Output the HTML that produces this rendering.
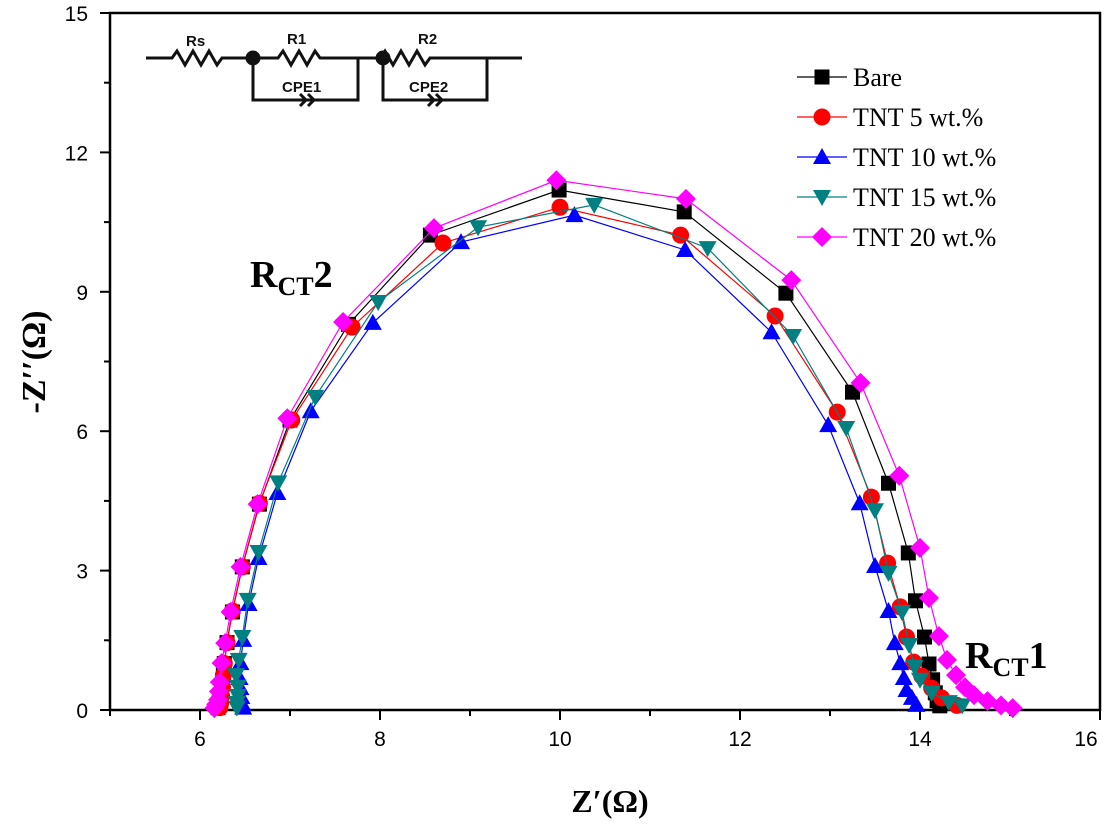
<!DOCTYPE html>
<html><head><meta charset="utf-8"><style>
body{margin:0;background:#fff;}
svg text{font-family:"Liberation Serif",serif;}
</style></head><body>
<svg id="chart" width="1104" height="827" viewBox="0 0 1104 827" xmlns="http://www.w3.org/2000/svg">
<g id="axes"></g>
<g id="series"></g>
<g id="legend"></g>
<g stroke="#111" stroke-width="3" fill="none">
  <path d="M146,58 H172 l5,-7 l8,14 l8,-14 l8,14 l8,-14 l8,14 l5,-7 H278 l5,-7 l8,14 l8,-14 l8,14 l8,-14 l5,7 H380 l5,-7 l8,14 l8,-14 l8,14 l8,-14 l8,14 l5,-7 H522"/>
  <path d="M253,58 V100 H358 V58"/>
  <path d="M383,58 V100 H487 V58"/>
  <path d="M300,94 l6,6 l-6,6 M308,94 l6,6 l-6,6 M428,94 l6,6 l-6,6 M436,94 l6,6 l-6,6"/>
  <circle cx="253" cy="58" r="6" fill="#111"/><circle cx="383" cy="58" r="6" fill="#111"/>
  <g stroke="none" fill="#111" font-size="15" font-weight="bold">
    <text x="186" y="46" style="font-family:'Liberation Sans',sans-serif">Rs</text>
    <text x="287" y="44" style="font-family:'Liberation Sans',sans-serif">R1</text>
    <text x="418" y="44" style="font-family:'Liberation Sans',sans-serif">R2</text>
    <text x="282" y="92" style="font-family:'Liberation Sans',sans-serif">CPE1</text>
    <text x="409" y="92" style="font-family:'Liberation Sans',sans-serif">CPE2</text>
  </g>
</g>
<text x="250" y="287" font-size="38" font-weight="bold">R<tspan font-size="26" dy="8">CT</tspan><tspan dy="-8">2</tspan></text>
<text x="965" y="668" font-size="38" font-weight="bold">R<tspan font-size="26" dy="8">CT</tspan><tspan dy="-8">1</tspan></text>
<text x="610" y="812" font-size="32" font-weight="bold" text-anchor="middle">Z′(Ω)</text>
<text transform="translate(45,362) rotate(-90)" font-size="34" font-weight="bold" text-anchor="middle">-Z′′(Ω)</text>
</svg>
<script>
const xTicks=[6,8,10,12,14,16];
const yTicks=[0,3,6,9,12,15];
const yMinorTicks=[1.5,4.5,7.5,10.5,13.5];
const seriesNames=["Bare","TNT 5 wt.%","TNT 10 wt.%","TNT 15 wt.%","TNT 20 wt.%"];
const bareX=[6.2,6.21,6.22,6.24,6.26,6.27,6.3,6.36,6.47,6.66,7.0,7.65,8.56,9.99,11.38,12.51,13.25,13.65,13.87,13.95,14.05,14.1,14.14,14.17,14.19,14.22];
const bareY=[0.05,0.15,0.3,0.5,0.75,1.0,1.45,2.11,3.08,4.43,6.24,8.3,10.22,11.19,10.72,8.97,6.84,4.88,3.38,2.35,1.57,0.99,0.65,0.37,0.2,0.09];
const t5X=[6.22,6.23,6.24,6.25,6.26,6.27,6.3,6.36,6.47,6.66,7.02,7.69,8.7,10.0,11.34,12.39,13.08,13.46,13.64,13.78,13.85,13.93,14.02,14.13,14.24,14.41];
const t5Y=[0.05,0.15,0.3,0.5,0.75,1.0,1.45,2.13,3.08,4.45,6.24,8.24,10.05,10.82,10.22,8.48,6.41,4.58,3.16,2.22,1.57,1.03,0.73,0.47,0.26,0.1];
const t10X=[6.48,6.47,6.46,6.45,6.44,6.45,6.48,6.54,6.65,6.86,7.23,7.92,8.9,10.16,11.39,12.35,12.98,13.33,13.5,13.65,13.72,13.78,13.82,13.85,13.91,13.96];
const t10Y=[0.05,0.13,0.28,0.47,0.69,1.01,1.51,2.28,3.27,4.67,6.43,8.33,10.07,10.65,9.9,8.13,6.13,4.45,3.1,2.13,1.44,1.01,0.69,0.43,0.26,0.11];
const t15X=[6.41,6.41,6.42,6.42,6.4,6.43,6.47,6.53,6.65,6.87,7.28,7.98,9.09,10.38,11.64,12.59,13.18,13.5,13.65,13.8,13.88,13.94,14.0,14.13,14.32,14.47];
const t15Y=[0.05,0.15,0.3,0.5,0.75,1.08,1.57,2.37,3.4,4.9,6.74,8.78,10.39,10.87,9.94,8.05,6.07,4.3,2.95,2.11,1.4,0.93,0.65,0.37,0.17,0.1];
const t20X=[6.16,6.18,6.2,6.21,6.22,6.24,6.28,6.34,6.45,6.64,6.97,7.59,8.6,9.96,11.4,12.57,13.34,13.77,14.0,14.1,14.21,14.3,14.4,14.5,14.6,14.75,14.9,15.03];
const t20Y=[0.04,0.12,0.22,0.4,0.6,1.01,1.44,2.11,3.08,4.43,6.28,8.35,10.37,11.4,11.0,9.25,7.04,5.04,3.49,2.41,1.59,1.08,0.75,0.49,0.32,0.19,0.1,0.04];
const seriesX=[bareX,t5X,t10X,t15X,t20X];
const seriesY=[bareY,t5Y,t10Y,t15Y,t20Y];
const colors=["#000000","#ff0000","#0000ff","#008080","#ff00ff"];
const shapes=["square","circle","tri","dtri","diamond"];
const X0=110,X1=1100,Y0=710,Y1=13;
const sx=v=>X0+(v-5)*(X1-X0)/11;
const sy=v=>Y0-v*(Y0-Y1)/15;
const NS="http://www.w3.org/2000/svg";
function mk(tag,attrs,parent){const e=document.createElementNS(NS,tag);for(const k in attrs)e.setAttribute(k,attrs[k]);parent.appendChild(e);return e;}
const axes=document.getElementById('axes');
const frame=mk('rect',{x:X0,y:Y1,width:X1-X0,height:Y0-Y1,fill:'none',stroke:'#000','stroke-width':2.5},axes);


for(let v=5;v<=16;v++){
  const t=mk('line',{x1:sx(v),x2:sx(v),y1:Y0,y2:Y0+(v%2===0?10:6),stroke:'#000','stroke-width':2},axes);
  
  
}
xTicks.forEach(v=>{
  const t=mk('text',{x:Math.min(sx(v),1086),y:Y0+36,'font-size':21,'text-anchor':'middle',style:"font-family:'Liberation Sans',sans-serif"},axes);
  t.textContent=v;
  
  
});
yTicks.concat(yMinorTicks).forEach(v=>{
  const t=mk('line',{x1:X0,x2:X0-(v%3===0?10:6),y1:sy(v),y2:sy(v),stroke:'#000','stroke-width':2},axes);
  
  
});
yTicks.forEach(v=>{
  const t=mk('text',{x:X0-22,y:sy(v)+8,'font-size':21,'text-anchor':'end',style:"font-family:'Liberation Sans',sans-serif"},axes);
  t.textContent=v;
  
  
});
function marker(shape,x,y,c,parent){
  const s=9;let e;
  if(shape==='square')e=mk('rect',{x:x-7.5,y:y-7.5,width:15,height:15,fill:c},parent);
  else if(shape==='circle')e=mk('circle',{cx:x,cy:y,r:8.5,fill:c},parent);
  else if(shape==='tri')e=mk('polygon',{points:`${x},${y-s} ${x-s},${y+7} ${x+s},${y+7}`,fill:c},parent);
  else if(shape==='dtri')e=mk('polygon',{points:`${x},${y+s} ${x-s},${y-7} ${x+s},${y-7}`,fill:c},parent);
  else e=mk('polygon',{points:`${x},${y-10} ${x+10},${y} ${x},${y+10} ${x-10},${y}`,fill:c},parent);
  return e;
}
const sg=document.getElementById('series');
seriesX.forEach((xs,i)=>{
  const g=mk('g',{},sg);
  
  
  const pts=xs.map((v,j)=>sx(v)+','+sy(seriesY[i][j])).join(' ');
  const pl=mk('polyline',{points:pts,fill:'none',stroke:colors[i],'stroke-width':1.2},g);
  
  
  xs.forEach((v,j)=>{
    const m=marker(shapes[i],sx(v),sy(seriesY[i][j]),colors[i],g);
    
    
  });
});
const lg=document.getElementById('legend');
seriesNames.forEach((n,i)=>{
  const y=77+i*40;
  const g=mk('g',{},lg);
  
  
  mk('line',{x1:797,x2:847,y1:y,y2:y,stroke:colors[i],'stroke-width':1.2},g);
  marker(shapes[i],822,y,colors[i],g);
  const t=mk('text',{x:853,y:y+9,'font-size':26},g);
  t.textContent=n;
});
</script>
</body></html>
